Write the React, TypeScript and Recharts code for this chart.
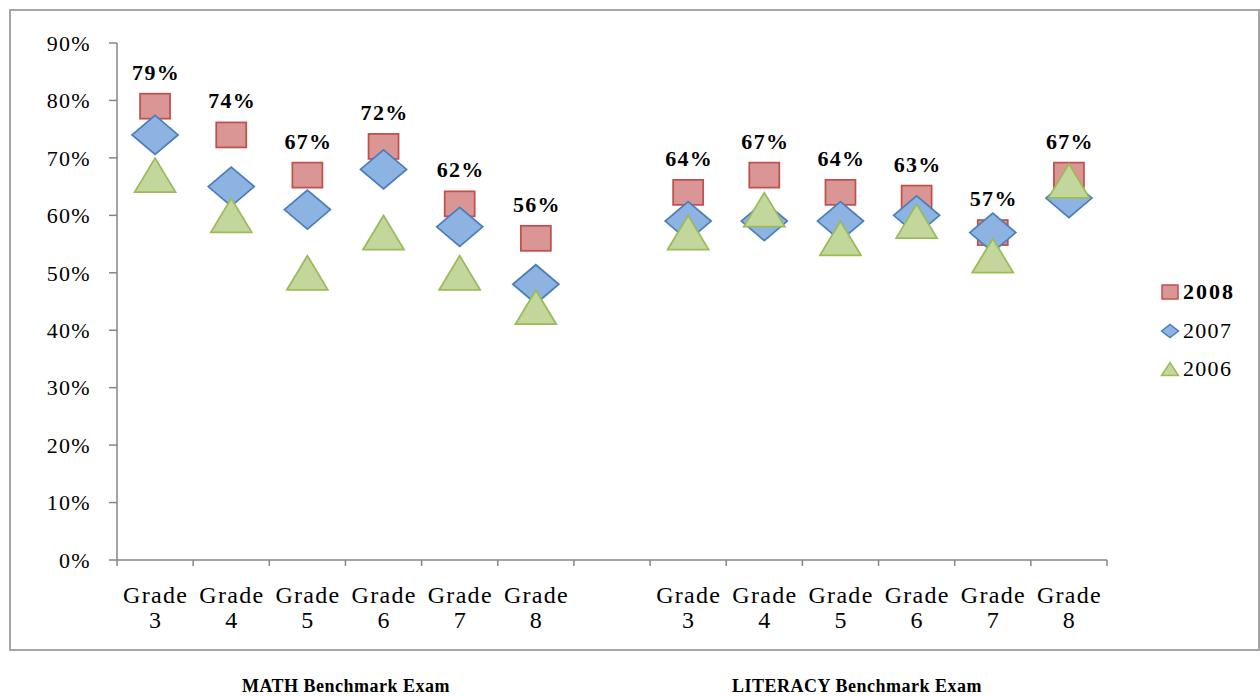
import React from "react";
import { ScatterChart, Scatter, XAxis, YAxis, Legend } from "recharts";

const categories = [
  "Grade 3", "Grade 4", "Grade 5", "Grade 6", "Grade 7", "Grade 8", "",
  "Grade 3", "Grade 4", "Grade 5", "Grade 6", "Grade 7", "Grade 8",
];
const values2008: (number | null)[] = [79, 74, 67, 72, 62, 56, null, 64, 67, 64, 63, 57, 67];
const values2007: (number | null)[] = [74, 65, 61, 68, 58, 48, null, 59, 59, 59, 60, 57, 63];
const values2006: (number | null)[] = [67, 60, 50, 57, 50, 44, null, 57, 61, 56, 59, 53, 66];
const yTicks = [0, 10, 20, 30, 40, 50, 60, 70, 80, 90];
const seriesNames = ["2008", "2007", "2006"];
const groupTitles = ["MATH Benchmark Exam", "LITERACY Benchmark Exam"];

const FONT = '"Liberation Serif", "Times New Roman", serif';

const toPoints = (vals: (number | null)[]) =>
  vals
    .map((v, i) => (v == null ? null : { x: i + 0.5, y: v }))
    .filter((p) => p !== null) as { x: number; y: number }[];

const data2008 = toPoints(values2008);
const data2007 = toPoints(values2007);
const data2006 = toPoints(values2006);

const boundaryTicks = categories.map((_, i) => i).concat([categories.length]);
const centerTicks = categories.map((_, i) => i + 0.5);

const COLORS = {
  s2008: { fill: "#d99694", stroke: "#c0504d" },
  s2007: { fill: "#8db3e2", stroke: "#4a7ebb" },
  s2006: { fill: "#c3d69b", stroke: "#9bbb59" },
};

const SquareShape = (props: any) => {
  const { cx, cy } = props;
  return (
    <rect x={cx - 15} y={cy - 12.5} width={30} height={25} fill={COLORS.s2008.fill} stroke={COLORS.s2008.stroke} strokeWidth={1.75} />
  );
};
const DiamondShape = (props: any) => {
  const { cx, cy } = props;
  return (
    <path d={`M${cx - 23},${cy} L${cx},${cy - 19.5} L${cx + 23},${cy} L${cx},${cy + 19.5} Z`} fill={COLORS.s2007.fill} stroke={COLORS.s2007.stroke} strokeWidth={1.75} />
  );
};
const TriangleShape = (props: any) => {
  const { cx, cy } = props;
  return (
    <path d={`M${cx - 20.5},${cy + 17} L${cx},${cy - 17} L${cx + 20.5},${cy + 17} Z`} fill={COLORS.s2006.fill} stroke={COLORS.s2006.stroke} strokeWidth={1.75} />
  );
};
const LabelShape = (props: any) => {
  const { cx, cy, payload } = props;
  return (
    <text x={cx + 1} y={cy - 26.5} textAnchor="middle" fontFamily={FONT} fontWeight="bold" fontSize={22} letterSpacing={1.3} fill="#000">
      {`${payload.y}%`}
    </text>
  );
};

const CategoryTick = (props: any) => {
  const { x, y, payload } = props;
  const idx = Math.floor(payload.value);
  const label = categories[idx] || "";
  if (!label) return <g />;
  const [word, num] = label.split(" ");
  return (
    <text x={x} y={y} textAnchor="middle" fontFamily={FONT} fontSize={24} letterSpacing={1.3} fill="#000">
      <tspan x={x + 0.6} dy={42}>{word}</tspan>
      <tspan x={x + 0.6} dy={25}>{num}</tspan>
    </text>
  );
};

const legendMarker = (i: number) => {
  if (i === 0)
    return <rect x={2} y={3} width={16} height={14} fill={COLORS.s2008.fill} stroke={COLORS.s2008.stroke} strokeWidth={1.5} />;
  if (i === 1)
    return <path d="M1.5,10 L10,3.5 L18.5,10 L10,16.5 Z" fill={COLORS.s2007.fill} stroke={COLORS.s2007.stroke} strokeWidth={1.5} />;
  return <path d="M1.5,16.5 L10,3.5 L18.5,16.5 Z" fill={COLORS.s2006.fill} stroke={COLORS.s2006.stroke} strokeWidth={1.5} />;
};

const LegendContent = (props: any) => {
  const payload = (props.payload || [])
    .filter((p: any) => seriesNames.includes(p.value))
    .slice()
    .sort((a: any, b: any) => seriesNames.indexOf(a.value) - seriesNames.indexOf(b.value));
  return (
    <div>
      {payload.map((p: any) => {
        const i = seriesNames.indexOf(p.value);
        return (
          <div key={p.value} style={{ display: "flex", alignItems: "center", height: 38.5 }}>
            <svg width={20} height={20} style={{ display: "block" }}>{legendMarker(i)}</svg>
            <span
              style={{
                marginLeft: 3,
                fontFamily: FONT,
                fontSize: 22,
                letterSpacing: i === 0 ? 2 : 1.3,
                fontWeight: i === 0 ? "bold" : "normal",
                color: "#000",
                lineHeight: "22px",
              }}
            >
              {p.value}
            </span>
          </div>
        );
      })}
    </div>
  );
};

export default function App() {
  return (
    <div style={{ position: "absolute", left: 0, top: 0, width: 1260, height: 696, background: "#fff" }}>
      <div
        style={{
          position: "absolute",
          left: 9,
          top: 9,
          width: 1251,
          height: 642,
          border: "2px solid #a6a6a6",
          boxSizing: "border-box",
        }}
      />
      <div style={{ position: "absolute", left: 0, top: 0 }}>
        <ScatterChart width={1260} height={696} margin={{ top: 43, right: 153, bottom: 6, left: 0 }}>
          <XAxis
            xAxisId="a"
            type="number"
            dataKey="x"
            domain={[0, categories.length]}
            ticks={boundaryTicks}
            interval={0}
            height={1}
            tickSize={6}
            tick={() => <g />}
            stroke="#868686"
            strokeWidth={1.5}
            allowDataOverflow
          />
          <XAxis
            xAxisId="b"
            type="number"
            dataKey="x"
            domain={[0, categories.length]}
            ticks={centerTicks}
            interval={0}
            height={129}
            tickSize={0}
            tickMargin={0}
            axisLine={false}
            tickLine={false}
            tick={<CategoryTick />}
            allowDataOverflow
          />
          <YAxis
            type="number"
            dataKey="y"
            domain={[0, 90]}
            ticks={yTicks}
            interval={0}
            width={117}
            tickSize={8}
            tickMargin={18}
            tickFormatter={(v: number) => `${v}%`}
            tick={{ fontFamily: FONT, fontSize: 22, fill: "#000", letterSpacing: 1.3 } as any}
            stroke="#868686"
            strokeWidth={1.5}
            allowDataOverflow
          />
          <Legend
            layout="vertical"
            align="center"
            verticalAlign="middle"
            wrapperStyle={{ left: 1160, top: 273, width: 100 }}
            content={<LegendContent />}
          />
          <Scatter name="2008" xAxisId="a" data={data2008} shape={SquareShape} isAnimationActive={false} legendType="square" />
          <Scatter name="2007" xAxisId="a" data={data2007} shape={DiamondShape} isAnimationActive={false} legendType="diamond" />
          <Scatter name="2006" xAxisId="a" data={data2006} shape={TriangleShape} isAnimationActive={false} legendType="triangle" />
          <Scatter name="labels2008" xAxisId="a" data={data2008} shape={LabelShape} isAnimationActive={false} legendType="none" />
        </ScatterChart>
      </div>
      <svg width={1260} height={696} style={{ position: "absolute", left: 0, top: 0, pointerEvents: "none" }}>
        <text x={346} y={692} textAnchor="middle" fontFamily={FONT} fontWeight="bold" fontSize={18} letterSpacing={0.5} fill="#000">
          {groupTitles[0]}
        </text>
        <text x={857} y={692} textAnchor="middle" fontFamily={FONT} fontWeight="bold" fontSize={18} letterSpacing={0.5} fill="#000">
          {groupTitles[1]}
        </text>
      </svg>
    </div>
  );
}
